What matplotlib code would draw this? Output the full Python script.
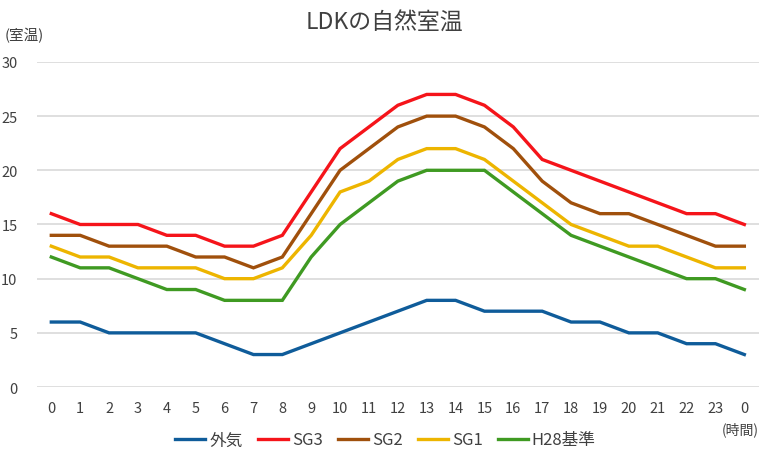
import matplotlib.pyplot as plt

plt.rcParams['font.family'] = ['Noto Sans CJK JP', 'DejaVu Sans']

hours = ['0', '1', '2', '3', '4', '5', '6', '7', '8', '9', '10', '11', '12',
         '13', '14', '15', '16', '17', '18', '19', '20', '21', '22', '23', '0']

outside = [6, 6, 5, 5, 5, 5, 4, 3, 3, 4, 5, 6, 7, 8, 8, 7, 7, 7, 6, 6, 5, 5, 4, 4, 3]
sg3 = [16, 15, 15, 15, 14, 14, 13, 13, 14, 18, 22, 24, 26, 27, 27, 26, 24, 21, 20, 19, 18, 17, 16, 16, 15]
sg2 = [14, 14, 13, 13, 13, 12, 12, 11, 12, 16, 20, 22, 24, 25, 25, 24, 22, 19, 17, 16, 16, 15, 14, 13, 13]
sg1 = [13, 12, 12, 11, 11, 11, 10, 10, 11, 14, 18, 19, 21, 22, 22, 21, 19, 17, 15, 14, 13, 13, 12, 11, 11]
h28 = [12, 11, 11, 10, 9, 9, 8, 8, 8, 12, 15, 17, 19, 20, 20, 20, 18, 16, 14, 13, 12, 11, 10, 10, 9]

series = [
    ('外気', outside, '#0F5C9A'),
    ('SG3', sg3, '#F5141A'),
    ('SG2', sg2, '#A0500C'),
    ('SG1', sg1, '#EDB500'),
    ('H28基準', h28, '#3F9A22'),
]

fig = plt.figure(figsize=(7.68, 4.56), dpi=100)
ax = fig.add_axes([0.048, 0.149, 0.94, 0.713])

x = range(len(hours))
for name, vals, col in series:
    ax.plot(x, vals, color=col, lw=2.4, label=name, solid_joinstyle='miter')

ax.set_xlim(-0.5, 24.5)
ax.set_ylim(0, 30)
ax.set_yticks(range(0, 31, 5))
ax.set_xticks(list(x))
ax.set_xticklabels(hours)
ax.grid(axis='y', color='#D9D9D9', lw=1.2)
ax.set_axisbelow(True)
for s in ax.spines.values():
    s.set_visible(False)
ax.tick_params(length=0, labelsize=10.5, colors='#404040', pad=10)
ax.tick_params(axis='y', pad=14)

fig.text(0.5, 0.95, 'LDKの自然室温', ha='center', va='center', fontsize=16.5, color='#404040')
fig.text(0.006, 0.923, '(室温)', ha='left', va='center', fontsize=10.5, color='#404040')
fig.text(0.964, 0.057, '(時間)', ha='center', va='center', fontsize=10, color='#404040')

leg = fig.legend(loc='center', bbox_to_anchor=(0.502, 0.033), ncol=5, frameon=False,
                 fontsize=12, handlelength=1.8, handletextpad=0.25, columnspacing=0.9)
for t in leg.get_texts():
    t.set_color('#404040')

fig.savefig('out.png', dpi=100)
